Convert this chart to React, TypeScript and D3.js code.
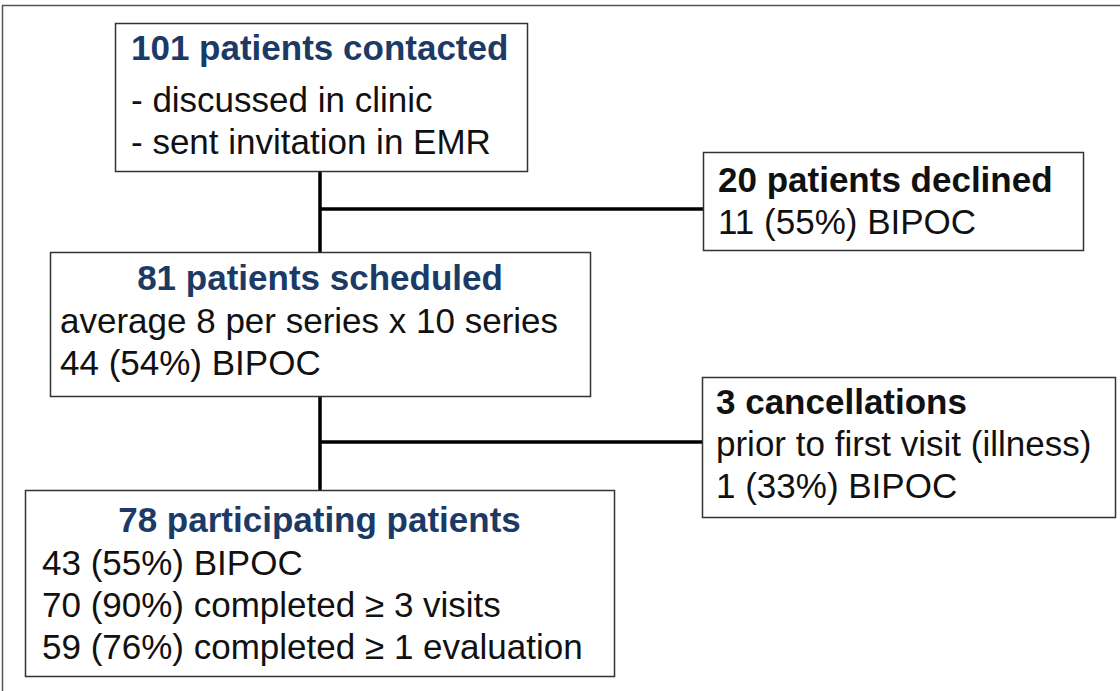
import React, { useEffect, useRef } from 'react';
import * as d3 from 'd3';

interface FlowBox {
  id: string;
  title: string;
  lines: string[];
  titleColor: string;
  centerTitle: boolean;
}

const boxIds = ['contacted', 'declined', 'scheduled', 'cancelled', 'participating'];
const boxTitles = [
  '101 patients contacted',
  '20 patients declined',
  '81 patients scheduled',
  '3 cancellations',
  '78 participating patients',
];
const boxLines = [
  ['- discussed in clinic', '- sent invitation in EMR'],
  ['11 (55%) BIPOC'],
  ['average 8 per series x 10 series', '44 (54%) BIPOC'],
  ['prior to first visit (illness)', '1 (33%) BIPOC'],
  ['43 (55%) BIPOC', '70 (90%) completed \u2265 3 visits', '59 (76%) completed \u2265 1 evaluation'],
];
const mainPath = ['contacted', 'scheduled', 'participating'];
const exclusions = ['declined', 'cancelled'];

// layout (pixels)
const W = 1120;
const H = 691;
const frames: Record<string, [number, number, number, number]> = {
  contacted: [115, 23, 527, 171],
  declined: [703, 152, 1083, 250],
  scheduled: [50, 252, 590, 396],
  cancelled: [702, 377, 1115, 517],
  participating: [25, 490, 614, 676],
};
// text x and baselines for title and each line
const textX: Record<string, number> = {
  contacted: 131, declined: 718, scheduled: 60, cancelled: 716, participating: 42,
};
const baselines: Record<string, number[]> = {
  contacted: [60, 112, 154],
  declined: [192, 234],
  scheduled: [290, 333, 375],
  cancelled: [414, 456, 498],
  participating: [532, 575, 617, 659],
};
const branchY: Record<string, number> = { declined: 209, cancelled: 442 };
const spineX = 320;
const fontSize = 35;
const navy = '#1c3a66';
const font = '"Liberation Sans", Arial, sans-serif';

const boxes: FlowBox[] = boxIds.map((id, i) => ({
  id,
  title: boxTitles[i],
  lines: boxLines[i],
  titleColor: mainPath.includes(id) ? navy : '#111',
  centerTitle: id === 'scheduled' || id === 'participating',
}));

const App: React.FC = () => {
  const svgRef = useRef<SVGSVGElement>(null);

  useEffect(() => {
    if (!svgRef.current) return;
    const svg = d3.select(svgRef.current);
    svg.selectAll('*').remove();

    svg.append('rect').attr('width', W).attr('height', H).attr('fill', '#fff');

    // outer frame
    svg.append('path')
      .attr('d', `M2.5,${H + 5}V5.5H${W + 5}`)
      .attr('fill', 'none')
      .attr('stroke', '#555')
      .attr('stroke-width', 1.5);

    // connectors along the spine
    const segs: [number, number][] = [];
    for (let i = 0; i < mainPath.length - 1; i++) {
      segs.push([frames[mainPath[i]][3], frames[mainPath[i + 1]][1]]);
    }
    svg.selectAll('line.spine')
      .data(segs)
      .enter().append('line')
      .attr('class', 'spine')
      .attr('x1', spineX).attr('x2', spineX)
      .attr('y1', d => d[0]).attr('y2', d => d[1])
      .attr('stroke', '#000')
      .attr('stroke-width', 3.5);

    // branches to exclusion boxes
    svg.selectAll('line.branch')
      .data(exclusions)
      .enter().append('line')
      .attr('class', 'branch')
      .attr('x1', spineX)
      .attr('x2', d => frames[d][0])
      .attr('y1', d => branchY[d])
      .attr('y2', d => branchY[d])
      .attr('stroke', '#000')
      .attr('stroke-width', 3.5);

    const g = svg.selectAll('g.box')
      .data(boxes)
      .enter().append('g')
      .attr('class', 'box');

    g.append('rect')
      .attr('x', d => frames[d.id][0] + 0.5)
      .attr('y', d => frames[d.id][1] + 0.5)
      .attr('width', d => frames[d.id][2] - frames[d.id][0])
      .attr('height', d => frames[d.id][3] - frames[d.id][1])
      .attr('fill', '#fff')
      .attr('stroke', '#333')
      .attr('stroke-width', 1.5);

    g.append('text')
      .attr('x', d => d.centerTitle ? (frames[d.id][0] + frames[d.id][2]) / 2 : textX[d.id])
      .attr('y', d => baselines[d.id][0])
      .attr('text-anchor', d => d.centerTitle ? 'middle' : 'start')
      .style('font-family', font)
      .style('font-size', `${fontSize}px`)
      .style('font-weight', 'bold')
      .style('fill', d => d.titleColor)
      .text(d => d.title);

    g.each(function (d) {
      d3.select(this).selectAll('text.line')
        .data(d.lines)
        .enter().append('text')
        .attr('class', 'line')
        .attr('x', textX[d.id])
        .attr('y', (_, j) => baselines[d.id][j + 1])
        .style('font-family', font)
        .style('font-size', `${fontSize}px`)
        .style('fill', '#111')
        .text(t => t);
    });
  }, []);

  return (
    <svg
      ref={svgRef}
      width={W}
      height={H}
      style={{ position: 'absolute', left: 0, top: 0 }}
    />
  );
};

export default App;
